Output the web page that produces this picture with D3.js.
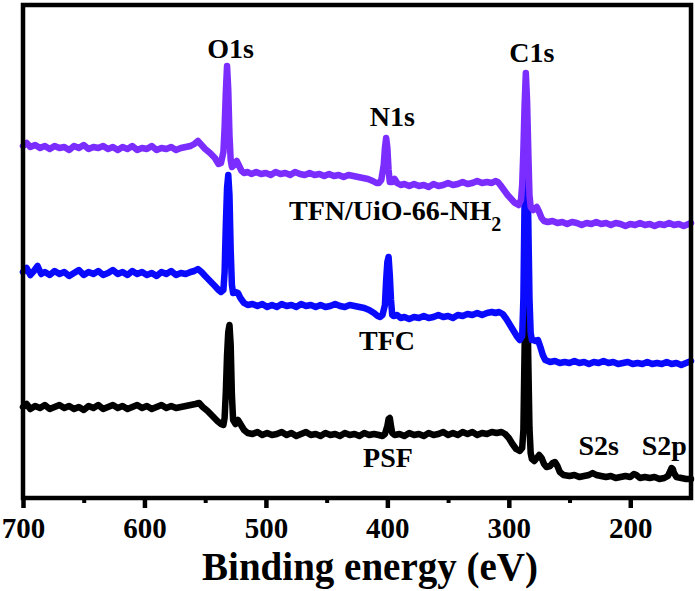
<!DOCTYPE html>
<html>
<head>
<meta charset="utf-8">
<script src="https://cdn.jsdelivr.net/npm/d3@7/dist/d3.min.js"></script>
<style>
body { margin: 0; background: #fff; }
text { font-family: "Liberation Serif", "Times New Roman", serif; font-weight: bold; fill: #000; }
</style>
</head>
<body>
<div id="chart"></div>
<script>
// XPS survey spectra, [binding energy (eV), intensity (a.u.)]
var psf = [[700,91],[697,94],[694,89],[690,92],[686,90],[682,93],[678,89],[674,91],[670,93],[666,90],[662,92],[658,89],[654,91],[650,88],[646,92],[642,90],[638,93],[634,89],[630,91],[626,93],[622,90],[618,92],[614,89],[610,91],[606,93],[602,90],[598,92],[594,89],[590,91],[586,93],[582,90],[578,92],[574,90],[570,91],[566,92],[562,93],[558,94],[555,95],[552,91],[548,87],[544,82],[540,77],[537,74],[535,73],[534,80],[533,106],[532,143],[531,166],[530,173],[529,153],[528,103],[527,78],[525,74],[523,78],[521,74],[518,68],[515,65],[511,64],[507,66],[503,63],[499,65],[495,63],[491,64],[487,66],[483,63],[479,65],[475,62],[471,64],[467,66],[463,63],[459,64],[455,62],[451,65],[447,63],[443,64],[439,62],[435,65],[431,63],[427,64],[423,62],[419,65],[415,63],[411,64],[407,63],[404,62],[402,64],[400,72],[399,79],[398,80],[397,72],[396,65],[394,63],[390,64],[386,62],[382,65],[378,63],[374,64],[370,62],[366,65],[362,63],[358,64],[354,66],[350,63],[346,65],[342,63],[338,66],[334,64],[330,66],[326,63],[322,65],[318,64],[314,66],[310,65],[306,66],[303,64],[300,60],[297,54],[294,49],[291,47],[289,50],[288,68],[287,150],[286,250],[285,230],[284,140],[283,70],[282,45],[281,39],[279,37],[277,40],[275,43],[273,40],[271,34],[269,31],[266,32],[264,35],[262,36],[260,32],[258,26],[255,23],[250,22],[246,23],[242,21],[238,22],[234,23],[231,25],[228,23],[224,22],[220,21],[216,22],[212,20],[208,21],[204,22],[200,21],[197,24],[195,23],[192,20],[188,21],[184,20],[180,21],[176,19],[172,20],[169,22],[167,27],[166,30],[165,29],[164,25],[162,21],[158,20],[154,19],[150,19]];

var tfc = [[700,226],[697,230],[694,223],[691,227],[688,232],[685,224],[682,226],[678,223],[674,227],[670,224],[666,226],[662,222],[658,225],[654,228],[650,223],[646,226],[642,224],[638,227],[634,223],[630,225],[626,228],[622,224],[618,226],[614,223],[610,227],[606,224],[602,226],[598,223],[594,225],[590,222],[586,226],[582,224],[578,227],[574,223],[570,225],[566,224],[562,226],[559,227],[556,229],[553,226],[550,222],[546,217],[542,212],[539,208],[537,206],[535,208],[534,226],[533,273],[532,310],[531,323],[530,303],[529,248],[528,213],[527,205],[525,206],[523,205],[521,200],[518,195],[515,193],[511,194],[507,192],[503,194],[499,191],[495,193],[491,191],[487,194],[483,192],[479,193],[475,191],[471,194],[467,192],[463,193],[459,191],[455,193],[451,191],[447,192],[443,194],[439,192],[435,191],[431,193],[427,192],[423,191],[419,190],[415,188],[411,185],[408,182],[406,181],[404,183],[402,193],[401,218],[400,236],[399,241],[398,223],[397,198],[396,183],[395,182],[392,183],[389,180],[386,181],[382,179],[378,181],[374,180],[370,182],[366,180],[362,181],[358,183],[354,181],[350,182],[346,180],[342,183],[338,182],[334,184],[330,183],[326,185],[322,183],[318,185],[314,186],[311,185],[308,186],[305,184],[302,179],[299,173],[296,167],[293,161],[291,158],[289,162],[288,200],[287,300],[286,400],[285,370],[284,280],[283,200],[282,165],[281,158],[280,158],[278,157],[276,158],[274,151],[272,143],[270,138],[266,136],[262,137],[258,135],[254,136],[250,135],[246,137],[242,135],[238,136],[234,134],[230,136],[226,135],[222,137],[218,135],[214,136],[210,134],[206,135],[202,136],[198,134],[194,135],[190,134],[186,136],[182,134],[178,135],[174,134],[170,136],[166,134],[162,135],[158,133],[154,135],[150,137]];

var tfn = [[700,352],[697,355],[694,351],[690,353],[686,350],[682,352],[678,349],[674,352],[670,350],[666,351],[662,348],[658,352],[654,350],[650,353],[646,349],[642,351],[638,350],[634,352],[630,349],[626,351],[622,348],[618,351],[614,349],[610,352],[606,348],[602,350],[598,349],[594,352],[590,348],[586,350],[582,349],[578,351],[574,348],[570,350],[566,351],[562,352],[559,354],[556,357],[553,353],[550,349],[546,345],[542,340],[539,334],[537,335],[535,346],[534,370],[533,406],[532,432],[531,408],[530,363],[529,338],[528,331],[526,333],[524,337],[522,332],[520,327],[518,325],[515,326],[512,324],[508,326],[504,324],[500,325],[496,323],[492,326],[488,324],[484,325],[480,323],[476,326],[472,324],[468,323],[464,325],[460,323],[456,324],[452,322],[448,324],[444,322],[440,323],[436,321],[432,323],[428,322],[424,321],[420,320],[416,319],[412,317],[409,315],[407,315],[405,318],[403,333],[402,350],[401,360],[400,350],[399,328],[398,316],[396,316],[394,319],[392,315],[389,313],[386,314],[382,312],[378,314],[374,312],[370,313],[366,311],[362,314],[358,312],[354,313],[350,315],[346,313],[342,314],[338,316],[334,314],[330,315],[326,317],[322,315],[318,316],[314,315],[311,317],[309,316],[307,313],[304,308],[301,303],[298,299],[295,295],[292,293],[290,298],[289,313],[288,348],[287,393],[286,425],[285,398],[284,348],[283,303],[282,291],[280,288],[278,290],[277,291],[275,286],[273,280],[271,277],[268,276],[264,277],[260,275],[256,276],[252,274],[248,276],[244,275],[240,273],[236,275],[232,274],[228,276],[224,274],[220,275],[216,273],[212,275],[208,274],[204,272],[200,274],[196,273],[192,275],[188,273],[184,274],[180,272],[176,274],[172,273],[168,275],[164,273],[160,274],[156,272],[152,274],[150,275]];

var seriesNames = ["PSF", "TFC", "TFN/UiO-66-NH"];
var seriesColors = ["#000000", "#0a0aff", "#7b2cff"];

var majorTicks = [700, 600, 500, 400, 300, 200];
var minorTicks = [650, 550, 450, 350, 250];

// peak labels: text, energy, intensity
var peakText = ["O1s", "N1s", "C1s", "S2s", "S2p"];
var peakEnergy = [529, 396, 281, 226, 172];
var peakHeight = [440, 372, 436, 43, 43];

// sample labels placed next to their curve
var sampleEnergy = [399.5, 400.3, 481];
var sampleHeight = [31, 148, 278];

var margin = {top: 5, right: 4, bottom: 93, left: 23},
    width = 695 - margin.left - margin.right,
    height = 591 - margin.top - margin.bottom;

var x = d3.scaleLinear()
    .domain([700, 150])
    .range([0, width]);

var y = d3.scaleLinear()
    .domain([0, 493])
    .range([height, 0]);

var svg = d3.select("#chart")
    .append("svg")
    .attr("width", 695)
    .attr("height", 591)
    .append("g")
    .attr("transform", "translate(" + margin.left + "," + margin.top + ")");

var valueLine = d3.line()
    .x(function (d) { return x(d[0]); })
    .y(function (d) { return y(d[1]); });

// black first, purple ends up on top
[psf, tfc, tfn].forEach(function (s, i) {
    svg.append("path")
        .datum(s)
        .attr("d", valueLine)
        .attr("fill", "none")
        .attr("stroke", seriesColors[i])
        .attr("stroke-width", 6.5)
        .attr("stroke-linejoin", "round")
        .attr("stroke-linecap", "round");
});

// minor ticks
svg.append("g")
    .attr("transform", "translate(0," + height + ")")
    .call(d3.axisBottom(x).tickValues(minorTicks).tickSize(5).tickFormat(""))
    .call(function (g) { g.select(".domain").remove(); })
    .selectAll("line").attr("stroke", "#000").attr("stroke-width", 4);

// major ticks + labels
var xAxis = svg.append("g")
    .attr("transform", "translate(0," + height + ")")
    .call(d3.axisBottom(x).tickValues(majorTicks).tickSize(10).tickPadding(9).tickFormat(d3.format("d")));
xAxis.select(".domain").remove();
xAxis.selectAll("line").attr("stroke", "#000").attr("stroke-width", 4.5);
xAxis.selectAll("text")
    .attr("fill", "#000")
    .style("font-family", "'Liberation Serif', serif")
    .style("font-weight", "bold")
    .style("font-size", "29px");

// box around the plot
svg.append("rect")
    .attr("x", 0)
    .attr("y", 0)
    .attr("width", width)
    .attr("height", height)
    .attr("fill", "none")
    .attr("stroke", "#000")
    .attr("stroke-width", 4.5);

svg.selectAll(".peak")
    .data(peakText)
    .enter()
    .append("text")
    .attr("class", "peak")
    .attr("x", function (d, i) { return x(peakEnergy[i]); })
    .attr("y", function (d, i) { return y(peakHeight[i]); })
    .attr("text-anchor", "middle")
    .style("font-size", "28px")
    .text(function (d) { return d; });

svg.selectAll(".sample")
    .data(seriesNames)
    .enter()
    .append("text")
    .attr("class", "sample")
    .attr("x", function (d, i) { return x(sampleEnergy[i]); })
    .attr("y", function (d, i) { return y(sampleHeight[i]); })
    .attr("text-anchor", function (d, i) { return i === 2 ? "start" : "middle"; })
    .style("font-size", "28px")
    .text(function (d) { return d; })
    .filter(function (d, i) { return i === 2; })
    .append("tspan")
    .attr("dy", 11)
    .style("font-size", "20px")
    .text("2");

svg.append("text")
    .attr("x", 370 - margin.left)
    .attr("y", height + 82)
    .attr("text-anchor", "middle")
    .style("font-size", "39px")
    .text("Binding energy (eV)");
</script>
</body>
</html>
